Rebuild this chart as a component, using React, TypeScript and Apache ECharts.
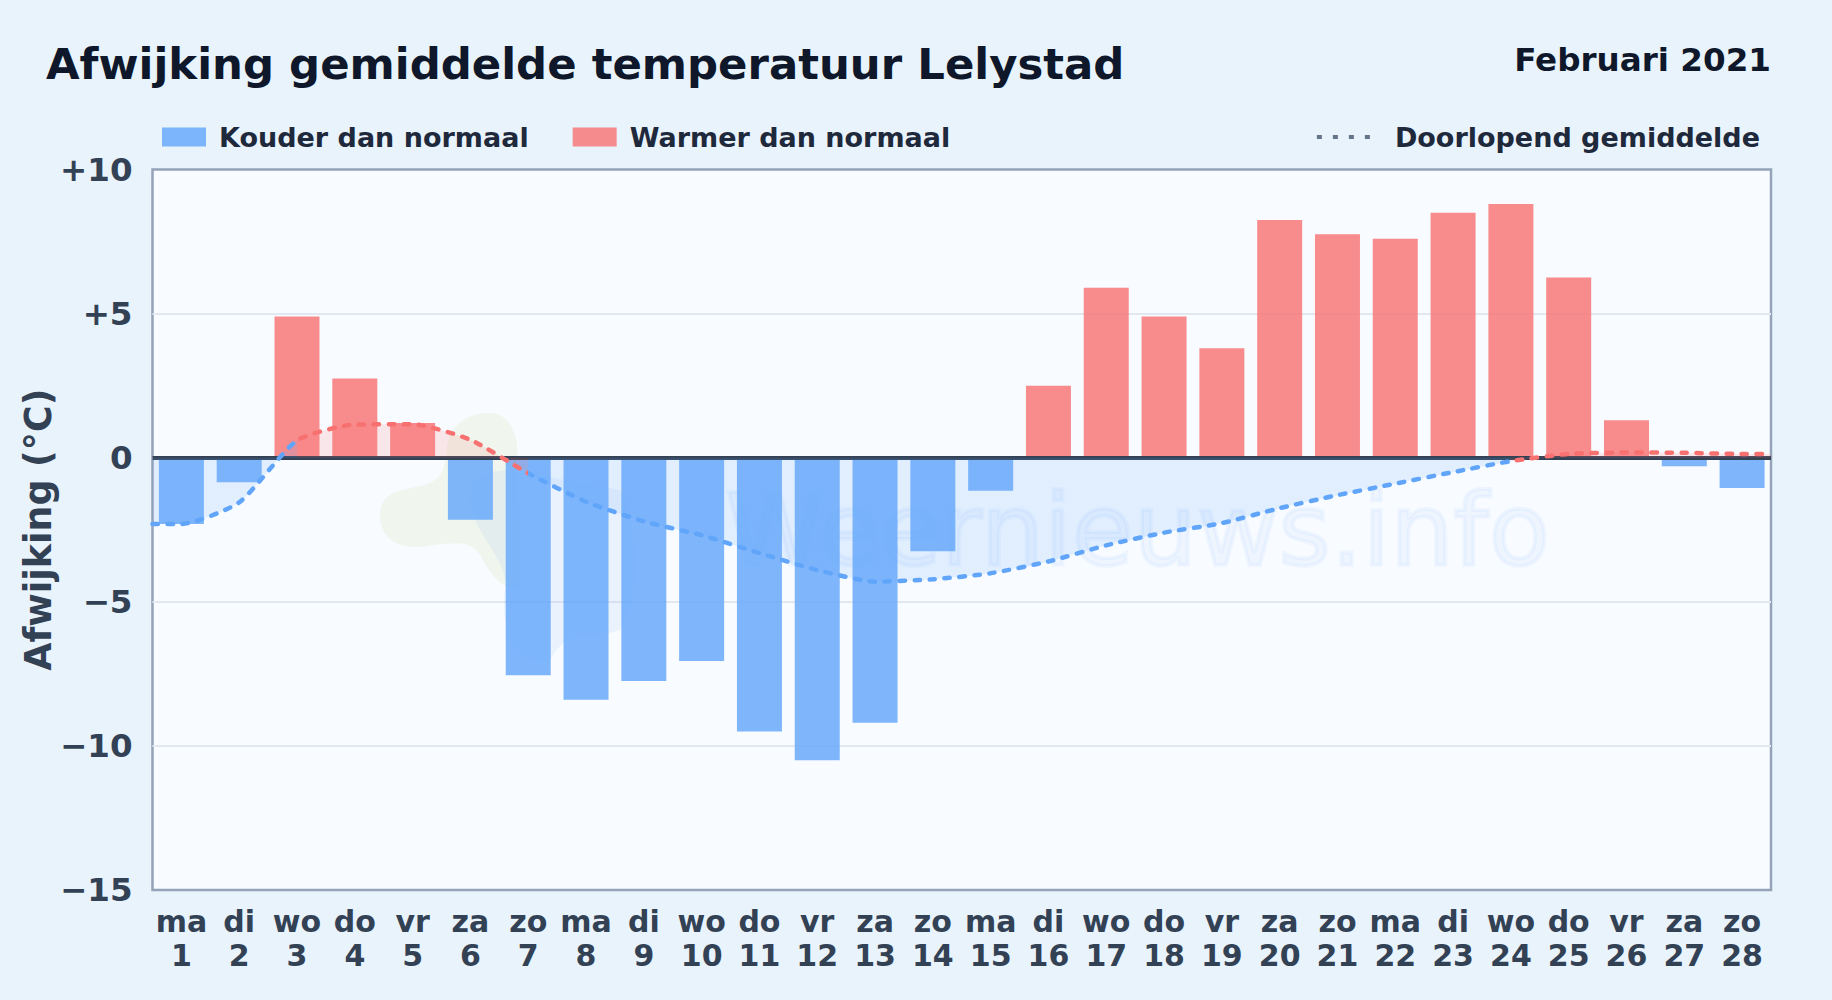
import React, { useEffect, useRef } from "react";
import * as echarts from "echarts";

const weekdays = ["ma","di","wo","do","vr","za","zo","ma","di","wo","do","vr","za","zo","ma","di","wo","do","vr","za","zo","ma","di","wo","do","vr","za","zo"];
const days = [1,2,3,4,5,6,7,8,9,10,11,12,13,14,15,16,17,18,19,20,21,22,23,24,25,26,27,28];
const deviations = [-2.3,-0.85,4.9,2.75,1.2,-2.15,-7.55,-8.4,-7.75,-7.05,-9.5,-10.5,-9.2,-3.25,-1.15,2.5,5.9,4.9,3.8,8.25,7.75,7.6,8.5,8.8,6.25,1.3,-0.3,-1.05];
const runningMean = [-2.3,-1.55,0.6,1.15,1.16,0.62,-0.54,-1.53,-2.21,-2.69,-3.31,-3.9,-4.3,-4.22,-4.01,-3.6,-3.04,-2.6,-2.27,-1.75,-1.3,-0.9,-0.5,-0.12,0.13,0.18,0.17,0.13];
const yTicks = { min: -15, max: 10, step: 5 };

const FONT = "DejaVu Sans";
const BLUE = "#60a5fa";
const RED = "#f87171";

echarts.graphic.registerShape("wmGreen", echarts.graphic.extendPath("M447 447 C450 420 475 412 492 413 C512 415 520 440 517 462 L520 590 C500 590 488 570 480 555 C470 540 455 543 435 545 C400 552 380 540 380 515 C380 490 405 490 425 485 C445 478 445 465 447 447 Z", {}));
echarts.graphic.registerShape("wmBlue", echarts.graphic.extendPath("M470 500 C470 475 490 470 510 470 L620 490 C640 530 640 600 620 630 C590 640 570 625 550 660 C520 670 500 640 505 590 C510 560 470 530 470 500 Z", {}));

export default function App() {
  const ref = useRef<HTMLDivElement>(null);
  useEffect(() => {
    document.body.style.margin = "0";
    const chart = echarts.init(ref.current!, undefined, { renderer: "svg" });
    const categories = days.map((d, i) => `${weekdays[i]}\n${d}`);
    const cold = deviations.map((v) => (v < 0 ? v : null));
    const warm = deviations.map((v) => (v >= 0 ? v : null));
    const mean = [[0.5, runningMean[0]], ...days.map((d, i) => [d, runningMean[i]]), [28.5, runningMean[27]]];
    chart.setOption({
      animation: false,
      backgroundColor: "#e8f3fc",
      textStyle: { fontFamily: FONT },
      title: [
        { text: "Afwijking gemiddelde temperatuur Lelystad", left: 46, top: 42, padding: 0, textStyle: { fontFamily: FONT, fontSize: 43.4, fontWeight: "bold", color: "#0f172a" } },
        { text: "Februari 2021", right: 61, top: 43, padding: 0, textStyle: { fontFamily: FONT, fontSize: 32.6, fontWeight: "bold", color: "#0f172a" } },
      ],
      legend: [
        {
          left: 162, top: 123.5, itemWidth: 44, itemHeight: 19, itemGap: 44, padding: 0, icon: "rect",
          data: ["Kouder dan normaal", "Warmer dan normaal"],
          textStyle: { fontFamily: FONT, fontSize: 27, fontWeight: "bold", color: "#1e293b", padding: [0, 0, 0, 8] },
        },
        {
          right: 72, top: 123.5, itemWidth: 54, itemHeight: 19, padding: 0,
          data: [{ name: "Doorlopend gemiddelde", itemStyle: { opacity: 0 }, lineStyle: { color: "#64748b", width: 4, type: [5, 11], cap: "butt" } }],
          textStyle: { fontFamily: FONT, fontSize: 27, fontWeight: "bold", color: "#1e293b", padding: [0, 0, 0, 19] },
        },
      ],
      grid: { left: 152.5, right: 61, top: 169.5, height: 720.5, show: true, backgroundColor: "#f8fbff", borderColor: "#94a3b8", borderWidth: 2.5 },
      graphic: [
        { type: "wmGreen", z: 1, silent: true, style: { fill: "rgba(190,220,130,0.14)" } },
        { type: "wmBlue", z: 1, silent: true, style: { fill: "rgba(59,130,246,0.07)" } },
        { type: "text", z: 1, silent: true, x: 1550, y: 480, style: { text: "Weernieuws.info", align: "right", fontFamily: FONT, fontSize: 100, fill: "#3b82f6", stroke: "#3b82f6", lineWidth: 4, opacity: 0.05 } },
      ],
      xAxis: [
        {
          type: "category", data: categories, position: "bottom",
          axisLine: { show: false }, axisTick: { show: false },
          axisLabel: { interval: 0, margin: 14, fontFamily: FONT, fontSize: 30, fontWeight: "bold", color: "#334155", lineHeight: 34 },
        },
        {
          type: "value", min: 0.5, max: 28.5, position: "bottom", show: false,
        },
      ],
      yAxis: {
        type: "value", min: yTicks.min, max: yTicks.max, interval: yTicks.step,
        name: "Afwijking (°C)", nameLocation: "middle", nameGap: 96, nameRotate: 90, nameMoveOverlap: false,
        nameTextStyle: { fontFamily: FONT, fontSize: 36.4, fontWeight: "bold", color: "#334155" },
        axisLine: { show: false }, axisTick: { show: false },
        axisLabel: {
          margin: 20, fontFamily: FONT, fontSize: 32.5, fontWeight: "bold", color: "#334155",
          formatter: (v: number) => (v > 0 ? `+${v}` : v < 0 ? `\u2212${Math.abs(v)}` : "0"),
        },
        splitLine: { showMinLine: false, showMaxLine: false, lineStyle: { color: "#e2e8f0", width: 2 } },
      },
      visualMap: {
        show: false, type: "piecewise", seriesIndex: 2, dimension: 0,
        pieces: [
          { lt: 3, color: BLUE },
          { gte: 3, lt: 7, color: RED },
          { gte: 7, lt: 24, color: BLUE },
          { gte: 24, color: RED },
        ],
      },
      series: [
        {
          name: "Kouder dan normaal", type: "bar", stack: "d", barWidth: 45, data: cold, itemStyle: { color: BLUE, opacity: 0.8 }, z: 2,
          markLine: { silent: true, symbol: "none", z: 3, animation: false, label: { show: false }, lineStyle: { color: "#334155", width: 4, type: "solid", opacity: 1 }, data: [{ yAxis: 0 }] },
        },
        { name: "Warmer dan normaal", type: "bar", stack: "d", barWidth: 45, data: warm, itemStyle: { color: RED, opacity: 0.8 }, z: 2 },
        {
          name: "Doorlopend gemiddelde", type: "line", xAxisIndex: 1, data: mean, symbol: "none",
          smooth: 0.2, z: 4,
          lineStyle: { width: 4.5, type: [5.5, 9.5], cap: "round" },
          areaStyle: { opacity: 0.15 },
        },
      ],
    });
    return () => chart.dispose();
  }, []);
  return <div ref={ref} style={{ width: 1832, height: 1000 }} />;
}
